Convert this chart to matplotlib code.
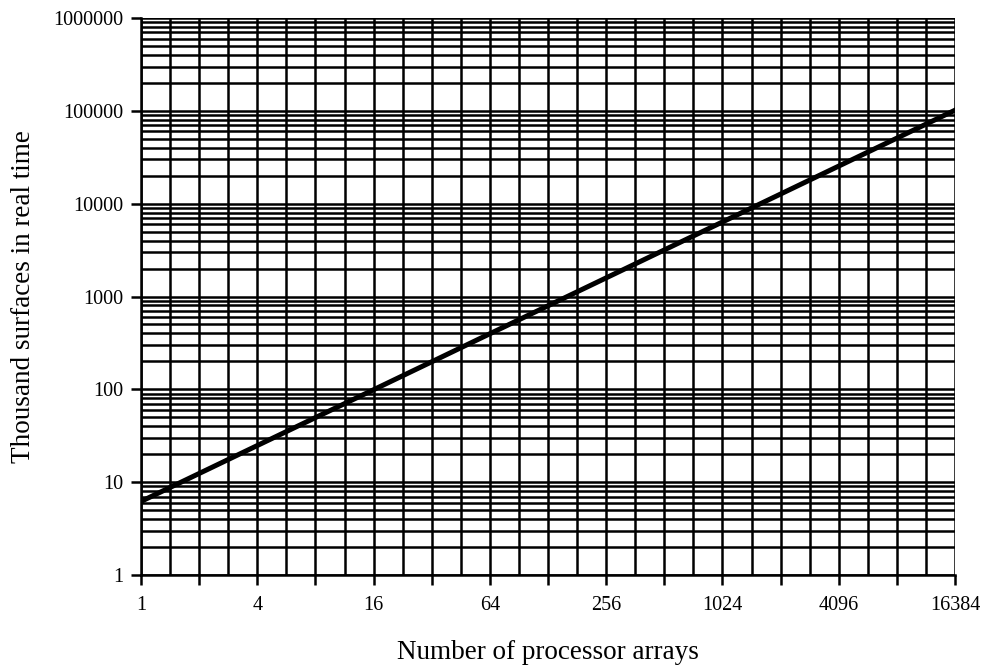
import matplotlib
matplotlib.use("Agg")
import matplotlib.pyplot as plt
import numpy as np

# number of processor arrays vs thousand surfaces in real time
arrays = [1, 2, 4, 8, 16, 32, 64, 128, 256, 512, 1024, 2048, 4096, 8192, 16384]
surfaces = [6.2, 12.4, 24.8, 49.6, 99, 198, 397, 794, 1587, 3174,
            6349, 12698, 25395, 50790, 101600]

x_labels = ["1", "", "4", "", "16", "", "64", "", "256", "", "1024", "",
            "4096", "", "16384"]
y_labels = ["1", "10", "100", "1000", "10000", "100000", "1000000"]

plt.rcParams["font.family"] = ["Liberation Serif", "DejaVu Serif"]

fig = plt.figure(figsize=(9.88, 6.66), dpi=100)
ax = fig.add_axes([141 / 988, 1 - 575 / 666, (955 - 141) / 988, (575 - 18) / 666])

ax.set_xscale("log", base=2)
ax.set_yscale("log", base=10)
ax.set_xlim(1, 16384)
ax.set_ylim(1, 1e6)

# grid lines (vertical every half power of two, horizontal log minor)
lw = 1.8
for k in range(0, 29):
    ax.axvline(2 ** (k / 2), color="black", lw=lw, zorder=1)
for d in range(0, 6):
    for m in range(1, 10):
        ax.axhline(m * 10 ** d, color="black", lw=lw, zorder=1)
ax.axhline(1e6, color="black", lw=lw, zorder=1)

ax.plot(arrays, surfaces, color="black", lw=3.6, zorder=3)

ax.set_xticks(arrays)
ax.set_xticklabels(x_labels)
ax.xaxis.set_minor_locator(matplotlib.ticker.NullLocator())
ax.set_yticks([10 ** i for i in range(7)])
ax.set_yticklabels(y_labels)
ax.yaxis.set_minor_locator(matplotlib.ticker.NullLocator())

ax.tick_params(axis="both", which="major", direction="out", length=7,
               width=1.8, color="black", labelsize=14.5)
ax.tick_params(axis="x", pad=8)
ax.tick_params(axis="y", pad=6)

for side in ["top", "right"]:
    ax.spines[side].set_visible(False)
for side in ["left", "bottom"]:
    ax.spines[side].set_linewidth(1.8)

ax.set_xlabel("Number of processor arrays", fontsize=19.5, labelpad=18)
ax.set_ylabel("Thousand surfaces in real time", fontsize=19.5, labelpad=12)

fig.savefig("out.png", dpi=100)
